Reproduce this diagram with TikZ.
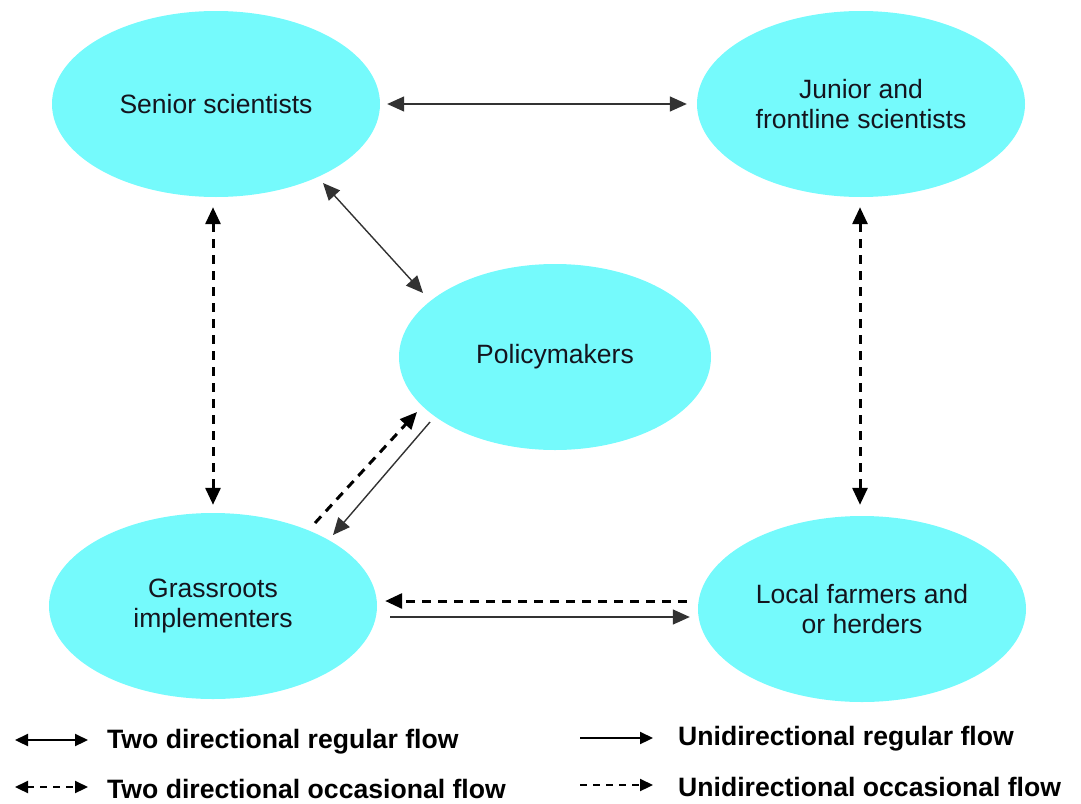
\documentclass[tikz,border=0pt]{standalone}
\usepackage{fontspec}
\setmainfont{Liberation Sans}
\usetikzlibrary{shapes.geometric,arrows.meta,calc}
\definecolor{blobcyan}{RGB}{117,250,252}
\definecolor{inktext}{RGB}{20,20,30}
\definecolor{lineink}{RGB}{50,50,50}
\tikzset{
  blob/.style={ellipse, fill=blobcyan, draw=none, inner sep=0pt,
    minimum width=328pt, minimum height=186pt, align=center,
    font=\fontsize{26.5}{30}\selectfont, text=inktext},
  regflow/.style={line width=1.4pt, draw=lineink},
  occflow/.style={line width=3pt, draw=black, dash pattern=on 9pt off 7pt},
  headtip/.tip={Triangle[length=17pt 0 0,width=15pt 0 0]},
  legtip/.tip={Triangle[length=13pt 0 0,width=12pt 0 0]},
  legreg/.style={line width=2.2pt, draw=black},
  legocc/.style={line width=2.2pt, draw=black, dash pattern=on 7pt off 6pt},
  legtext/.style={anchor=west, inner sep=0pt, font=\fontsize{26.6}{30}\selectfont\bfseries}
}
\begin{document}
\begin{tikzpicture}[x=1pt,y=-1pt]
\useasboundingbox (0,0) rectangle (1081,803);
% nodes
\node[blob] (sen) at (216,104) {Senior scientists};
\node[blob] (jun) at (861,104) {Junior and\\frontline scientists};
\node[blob, minimum width=312pt] (pol) at (555,357) {Policymakers};
\node[blob] (gr) at (213,606) {Grassroots\\implementers};
\node[blob] (lf) at (862,609) {Local farmers and\\or herders};
% connectors
\draw[regflow, {headtip}-{headtip}] ([xshift=7pt]sen.east) -- ([xshift=-10pt]jun.west);
\draw[regflow, {headtip}-{headtip}] ($(sen)+(107,79)$) -- ($(pol)+(-132,-64)$);
\draw[occflow, {headtip}-{headtip}] ($(sen.south)+(-3,10)$) -- ($(gr.north)+(0,-8)$);
\draw[occflow, {headtip}-{headtip}] ($(jun.south)+(-1,10)$) -- ($(lf.north)+(-2,-11)$);
\draw[occflow, -{headtip}] ($(gr)+(102,-83)$) -- ($(pol)+(-138,55)$);
\draw[regflow, -{headtip}] ($(pol)+(-125,65)$) -- ($(gr)+(120,-71)$);
\draw[occflow, -{headtip}] ($(lf.west)+(-11,-8)$) -- ($(gr.east)+(8,-5)$);
\draw[regflow, -{headtip}] ($(gr.east)+(13,11)$) -- ($(lf.west)+(-8,8)$);
% legend
\coordinate (la1) at (15,740); \coordinate (lb1) at (88,740);
\coordinate (la2) at (15,787); \coordinate (lb2) at (88,787);
\coordinate (la3) at (580,738); \coordinate (lb3) at (653,738);
\coordinate (la4) at (580,785); \coordinate (lb4) at (653,785);
\draw[legreg, {legtip}-{legtip}] (la1) -- (lb1);
\draw[legocc, {legtip}-{legtip}] (la2) -- (lb2);
\draw[legreg, -{legtip}] (la3) -- (lb3);
\draw[legocc, -{legtip}] (la4) -- (lb4);
\node[legtext] (t1) at (107,742) {Two directional regular flow};
\node[legtext] (t2) at (107,789) {Two directional occasional flow};
\node[legtext] (t3) at (678,739) {Unidirectional regular flow};
\node[legtext] (t4) at (678,787) {Unidirectional occasional flow};
\end{tikzpicture}
\end{document}
